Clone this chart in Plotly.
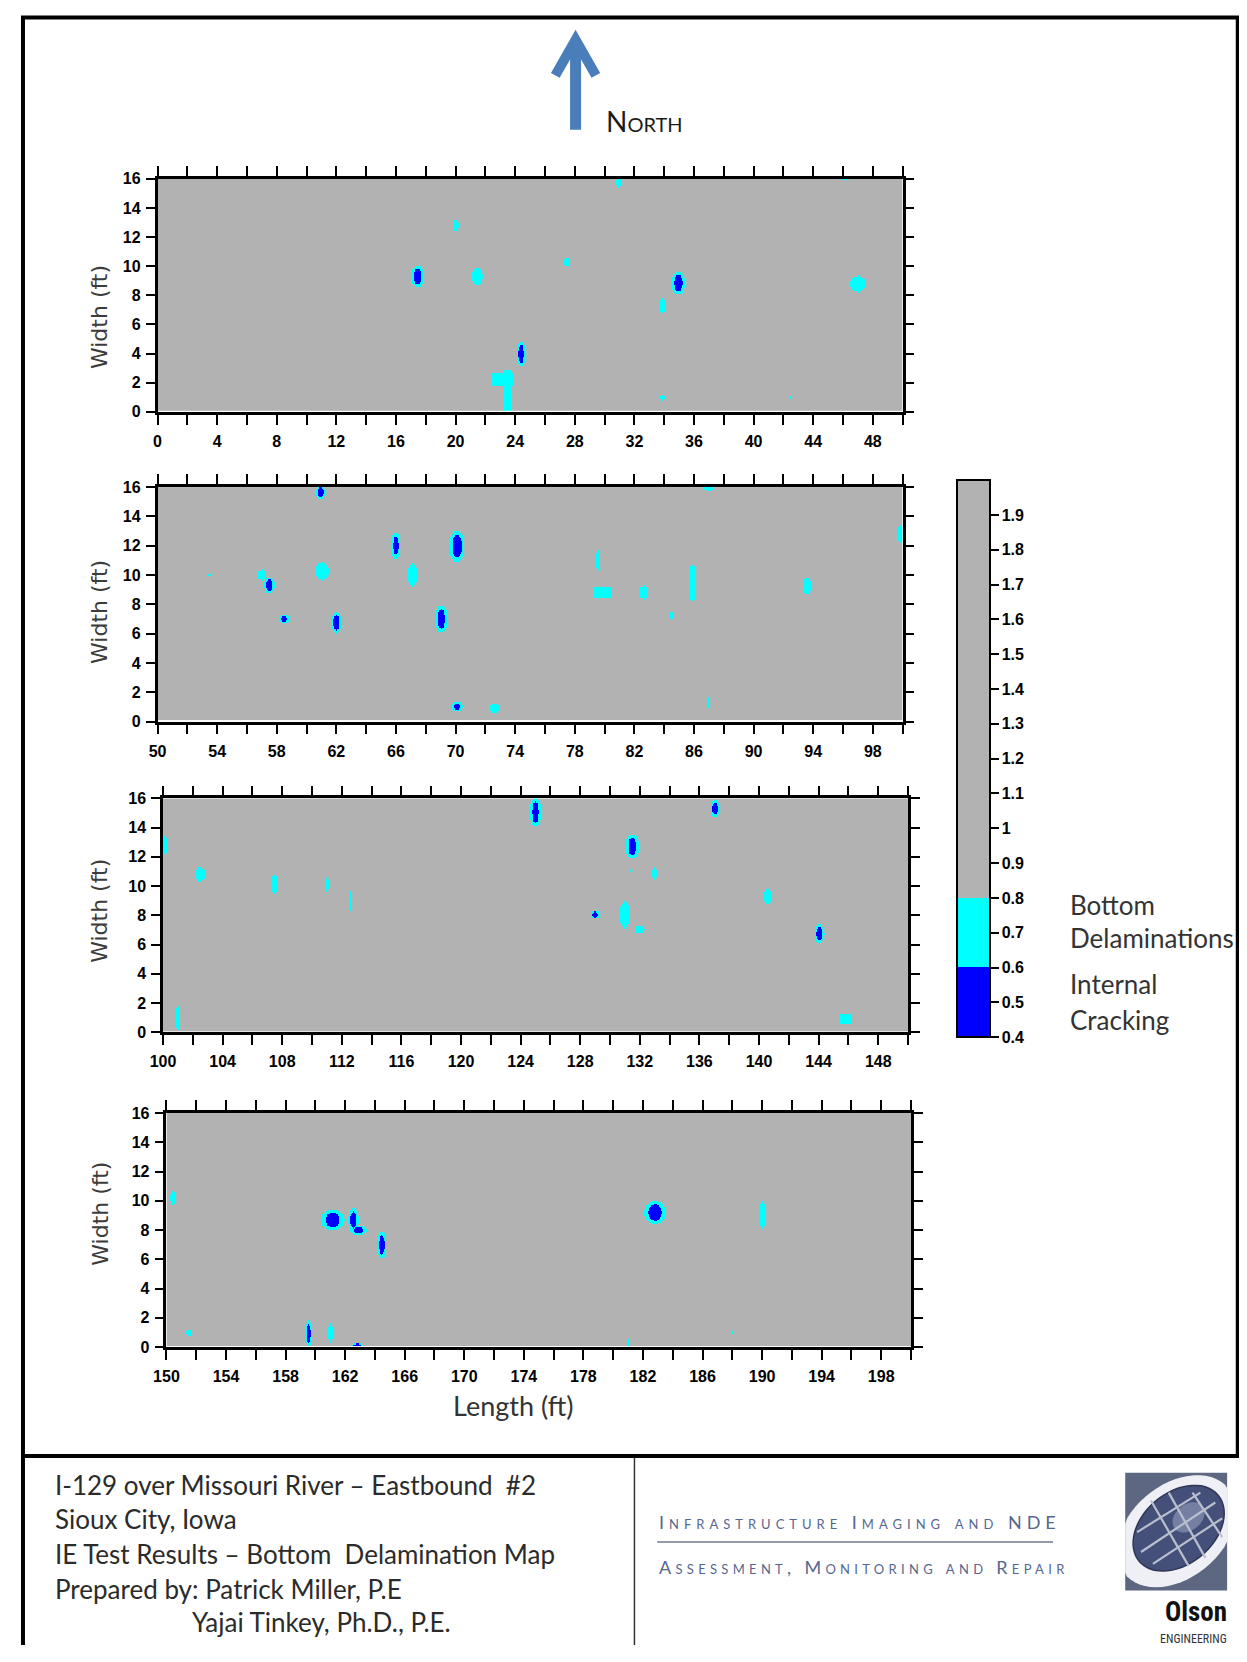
import numpy as np
import plotly.graph_objects as go

# page is 1247x1662 with an 8px body margin; the figure fills the rest exactly
MARGIN = 8
W, H = 1247 - 2 * MARGIN, 1662 - 2 * MARGIN

# ---------------- data ----------------
panel_starts = [0, 50, 100, 150]      # start of each 50-ft strip (ft)
panel_length = 50                      # ft
deck_width = 16                        # ft

# anomaly spots: centre x (ft), centre y (ft), extent in x (ft), extent in y (ft), kind
# kind: "C" bottom delamination (0.6-0.8), "B" internal cracking core with delamination rim,
#       "R" rectangular bottom delamination
spot_x = [17.45, 21.45, 20.0, 27.5, 31.0, 34.95, 33.9, 47.0, 24.4, 23.15, 23.5, 33.9, 42.5, 23.5, 46.1,
          60.95, 66.0, 70.1, 57.0, 57.5, 61.05, 67.1, 53.5, 58.5, 62.0, 69.05, 70.1, 72.6, 79.55, 79.85,
          82.65, 85.9, 84.5, 87.0, 87.0, 93.6, 99.85, 66.5,
          125.0, 137.05, 131.5, 100.1, 102.5, 107.5, 111.0, 110.5, 112.6, 129.0, 131.0, 132.0, 133.0,
          131.4, 140.6, 144.05, 101.0, 145.8,
          161.15, 162.55, 162.9, 164.45, 182.8, 190.0, 150.45, 151.5, 159.55, 161.0, 162.8, 181.0, 188.0]
spot_y = [9.3, 9.3, 12.8, 10.3, 15.75, 8.85, 7.3, 8.8, 4.0, 2.25, 1.45, 1.0, 1.0, 6.3, 15.95,
          15.65, 12.0, 11.95, 10.0, 9.3, 10.25, 10.0, 10.0, 7.0, 6.75, 7.0, 1.0, 0.9, 11.0, 8.8,
          8.8, 9.45, 7.25, 15.9, 1.3, 9.25, 12.8, 1.2,
          15.05, 15.3, 12.7, 12.8, 10.8, 10.15, 10.1, 10.9, 9.0, 8.05, 8.05, 7.05, 10.85,
          11.1, 9.3, 6.75, 1.0, 0.95,
          8.7, 8.7, 8.0, 7.0, 9.2, 9.05, 10.2, 1.0, 0.95, 1.0, 0.15, 0.3, 1.0]
spot_w = [0.7, 0.6, 0.3, 0.3, 0.3, 0.75, 0.25, 0.8, 0.5, 1.1, 0.4, 0.2, 0.12, 0.08, 0.35,
          0.55, 0.5, 0.8, 0.5, 0.55, 0.7, 0.55, 0.15, 0.55, 0.55, 0.65, 0.6, 0.5, 0.15, 0.9,
          0.5, 0.4, 0.18, 0.55, 0.1, 0.45, 0.35, 0.08,
          0.62, 0.5, 0.73, 0.35, 0.55, 0.35, 0.25, 0.12, 0.18, 0.5, 0.5, 0.5, 0.22,
          0.12, 0.4, 0.5, 0.22, 0.65,
          1.2, 0.55, 0.85, 0.5, 1.15, 0.4, 0.3, 0.33, 0.36, 0.22, 0.6, 0.15, 0.1]
spot_h = [1.15, 0.9, 0.6, 0.55, 0.5, 1.2, 0.85, 0.85, 1.3, 0.7, 2.3, 0.3, 0.2, 0.4, 0.15,
          0.7, 1.4, 1.65, 0.55, 0.85, 0.95, 1.2, 0.3, 0.45, 1.1, 1.45, 0.5, 0.45, 1.1, 0.6,
          0.75, 2.0, 0.55, 0.25, 0.6, 0.8, 1.0, 0.5,
          1.55, 0.9, 1.25, 1.0, 0.75, 1.05, 0.8, 0.15, 1.05, 0.45, 1.45, 0.45, 0.75,
          0.15, 0.85, 1.0, 1.2, 0.5,
          1.1, 1.2, 0.5, 1.45, 1.2, 1.4, 0.7, 0.35, 1.4, 1.15, 0.25, 0.5, 0.15]
spot_kind = ["B", "C", "C", "C", "C", "B", "C", "C", "B", "R", "R", "C", "C", "C", "C",
             "B", "B", "B", "C", "B", "C", "C", "C", "B", "B", "B", "B", "C", "C", "R",
             "C", "C", "C", "C", "C", "C", "C", "C",
             "B", "B", "B", "C", "C", "C", "C", "C", "C", "B", "C", "C", "C",
             "C", "C", "B", "C", "R",
             "B", "B", "B", "B", "B", "C", "C", "C", "B", "C", "B", "C", "C"]

level_sound = 1.4       # sound concrete
level_delam = 0.7       # bottom delamination
level_crack = 0.5       # internal cracking

cbar_ticks = [0.4, 0.5, 0.6, 0.7, 0.8, 0.9, 1.0, 1.1, 1.2, 1.3, 1.4, 1.5, 1.6, 1.7, 1.8, 1.9]
cbar_ticktext = ["0.4", "0.5", "0.6", "0.7", "0.8", "0.9", "1", "1.1", "1.2", "1.3", "1.4",
                 "1.5", "1.6", "1.7", "1.8", "1.9"]

title_lines = ["I-129 over Missouri River \u2013 Eastbound  #2",
               "Sioux City, Iowa",
               "IE Test Results \u2013 Bottom  Delamination Map",
               "Prepared by: Patrick Miller, P.E",
               "Yajai Tinkey, Ph.D., P.E."]
legend_lines = ["Bottom", "Delaminations", "Internal", "Cracking"]

# contour smoothing in the source map makes each spot look a little larger than its core reading
EDGE_GROWTH = 1.3


# ---------------- helpers (page pixel -> paper) ----------------
def px(x):
    return (x - MARGIN) / W


def py(y):
    return 1 - (y - MARGIN) / H


GRAY = "#b2b2b2"
colorscale = [[0.0, "#0000ff"], [0.125, "#0000ff"], [0.125, "#00ffff"], [0.25, "#00ffff"],
              [0.25, GRAY], [1.0, GRAY]]

# panel boxes in page pixels: left, right, top, bottom
boxes = [(146, 899, 172.5, 408),
         (146, 899, 484, 721),
         (151.5, 904.5, 798.5, 1035),
         (155, 907.5, 1116.5, 1353)]
ytitle_centres = [312, 610, 912, 1218]

tick_font = dict(family="Liberation Sans, Arial, sans-serif", size=16, color="black", weight="bold")

fig = go.Figure()

dx, dy = 0.05, 0.1
for i, x0 in enumerate(panel_starts):
    xs = np.arange(x0 + dx / 2, x0 + panel_length, dx)
    ys = np.arange(0.1 + dy / 2, deck_width, dy)
    X, Y = np.meshgrid(xs, ys)
    Z = np.full(X.shape, level_sound, dtype=np.float32)
    for cx, cy, w, h, k in zip(spot_x, spot_y, spot_w, spot_h, spot_kind):
        if cx < x0 - 1 or cx > x0 + panel_length + 1:
            continue
        w = max(w * EDGE_GROWTH, dx * 1.6)
        h = max(h * EDGE_GROWTH, dy * 1.6)
        if k == "R":
            m = (np.abs(X - cx) <= w / 2) & (np.abs(Y - cy) <= h / 2)
        else:
            m = ((X - cx) / (w / 2)) ** 2 + ((Y - cy) / (h / 2)) ** 2 <= 1
        Z[m] = np.minimum(Z[m], level_delam)
        if k == "B":
            wi, hi = max(w * 0.58, dx * 1.2), max(h * 0.72, dy * 1.2)
            mi = ((X - cx) / (wi / 2)) ** 2 + ((Y - cy) / (hi / 2)) ** 2 <= 1
            Z[mi] = level_crack
    n = "" if i == 0 else str(i + 1)
    fig.add_trace(go.Heatmap(
        x=xs, y=ys, z=Z, xaxis="x" + n, yaxis="y" + n,
        colorscale=colorscale, zmin=0.4, zmax=2.0, zsmooth=False,
        hoverinfo="skip", showscale=(i == 0),
        colorbar=dict(
            x=px(954), xanchor="left", xref="paper",
            y=py(477), yanchor="top", yref="paper",
            len=(1040 - 477) / H, lenmode="fraction",
            thickness=33, thicknessmode="pixels",
            outlinewidth=2, outlinecolor="black",
            tickvals=cbar_ticks, ticktext=cbar_ticktext,
            ticks="outside", ticklen=8, tickwidth=1.5, tickcolor="black",
            tickfont=tick_font, xpad=0, ypad=0,
        ),
    ))
    left, right, top, bottom = boxes[i]
    tv = list(range(x0, x0 + panel_length + 1, 2))
    tt = [str(v) if ((v - x0) % 4 == 0 and v < x0 + panel_length) else "" for v in tv]
    axis_common = dict(showline=True, linewidth=2.5, linecolor="black", mirror="allticks",
                       ticks="outside", tickwidth=2, tickcolor="black",
                       showgrid=False, zeroline=False, tickfont=tick_font, fixedrange=True)
    fig.update_layout(**{
        "xaxis" + n: dict(domain=[px(left), px(right)], range=[x0, x0 + panel_length], ticklen=10,
                          tickvals=tv, ticktext=tt, anchor="y" + n, ticklabelstandoff=3, **axis_common),
        "yaxis" + n: dict(domain=[py(bottom), py(top)], range=[0, deck_width], ticklen=9,
                          tickvals=list(range(0, 17, 2)), anchor="x" + n, ticklabelstandoff=2,
                          **axis_common),
    })

annotations = []


def note(text, x, y, xanchor="center", **font):
    annotations.append(dict(text=text, x=px(x), y=py(y), xref="paper", yref="paper",
                            xanchor=xanchor, yanchor="middle", showarrow=False, font=font))


# y axis titles
for yc in ytitle_centres:
    note("Width (ft)", 88, yc, family="DejaVu Sans", size=22, color="#3c3c3c")
    annotations[-1]["textangle"] = -90
note("Length (ft)", 505, 1412, family="Lato", size=27, color="#333333")

# legend texts beside colour bar
for txt, yy in zip(legend_lines, [906, 940, 986, 1022]):
    note(txt, 1066, yy, xanchor="left", family="Lato", size=26, color="#333333")

# north label
note("North", 597, 114, xanchor="left", family="Lato", size=28, color="#1a1a1a", variant="small-caps")

# title block
for j, (txt, yy) in enumerate(zip(title_lines, [1492, 1527, 1562, 1597, 1631])):
    note(txt, 179 if j == 4 else 40, yy, xanchor="left", family="Lato", size=26, color="#2b2b2b")

note('<span style="letter-spacing:5px">Infrastructure Imaging and NDE</span>', 651, 1530, xanchor="left",
     family="Lato", size=18, color="#56678f", variant="small-caps")
note('<span style="letter-spacing:4.3px">Assessment, Monitoring and Repair</span>', 651, 1575,
     xanchor="left", family="Lato", size=18, color="#56678f", variant="small-caps")
note("<b>Olson</b>", 1228, 1621, xanchor="right",
     family="Roboto Condensed, Liberation Sans Narrow, Lato", size=27, color="#111111")
note("ENGINEERING", 1228, 1648, xanchor="right",
     family="Liberation Sans Narrow, Roboto Condensed, Lato", size=12, color="#333333")
annotations[-1]["borderpad"] = 0
annotations[-2]["borderpad"] = 0

shapes = []


def line(x0, y0, x1, y1, w, c="black"):
    shapes.append(dict(type="line", xref="paper", yref="paper", x0=px(x0), y0=py(y0), x1=px(x1), y1=py(y1),
                       line=dict(color=c, width=w), layer="above"))


# frame
line(10, 8, 10, 1654, 4)
line(8, 9.5, 1239, 9.5, 4)
line(1237.5, 8, 1237.5, 1465, 3.5)
line(8, 1463, 1239, 1463, 4)
line(628, 1465, 628, 1654, 1.5, "#333333")
line(651, 1550, 1051, 1550, 1.5, "#6f7a94")

# north arrow
shapes.append(dict(type="path", xref="paper", yref="paper",
                   path=f"M {px(568.5)},{py(123)} L {px(568.5)},{py(34)}",
                   line=dict(color="#4a7ebb", width=11), layer="above"))
shapes.append(dict(type="path", xref="paper", yref="paper",
                   path=f"M {px(548)},{py(68)} L {px(568.5)},{py(32)} L {px(589)},{py(68)}",
                   fillcolor="rgba(0,0,0,0)", line=dict(color="#4a7ebb", width=10), layer="above"))


# logo
def ellipse_path(cx, cy, a, b, ang, clip=None, n=60):
    t = np.linspace(0, 2 * np.pi, n)
    ca, sa = np.cos(np.radians(ang)), np.sin(np.radians(ang))
    xx = cx + a * np.cos(t) * ca - b * np.sin(t) * sa
    yy = cy + a * np.cos(t) * sa + b * np.sin(t) * ca
    if clip:
        xx = np.clip(xx, clip[0], clip[1])
        yy = np.clip(yy, clip[2], clip[3])
    pts = [f"{px(a_)},{py(b_)}" for a_, b_ in zip(xx, yy)]
    return "M " + " L ".join(pts) + " Z"


L0, L1, T0, T1 = 1124, 1227, 1480, 1599
shapes.append(dict(type="rect", xref="paper", yref="paper", x0=px(L0), x1=px(L1), y0=py(T1), y1=py(T0),
                   fillcolor="#5d6781", line=dict(width=0), layer="above"))
shapes.append(dict(type="path", xref="paper", yref="paper",
                   path=ellipse_path(1176, 1539, 68, 47, -40, clip=(L0, L1, T0, T1)),
                   fillcolor="#eef0f5", line=dict(width=0), layer="above"))
shapes.append(dict(type="path", xref="paper", yref="paper",
                   path=ellipse_path(1178, 1536, 52, 36, -40),
                   fillcolor="#44507a", line=dict(color="#2f3654", width=1.5), layer="above"))
shapes.append(dict(type="path", xref="paper", yref="paper",
                   path=ellipse_path(1188, 1525, 18, 13, -40),
                   fillcolor="#8a93b3", line=dict(width=0), opacity=0.7, layer="above"))
for sx0, sy0, sx1, sy1 in [(1140, 1560, 1215, 1510), (1136, 1540, 1200, 1500), (1152, 1572, 1222, 1526),
                            (1150, 1508, 1188, 1574), (1168, 1500, 1205, 1566), (1192, 1500, 1222, 1545)]:
    line(sx0, sy0, sx1, sy1, 2.2, "#b9bfcf")

fig.update_layout(
    width=W, height=H, margin=dict(l=0, r=0, t=0, b=0),
    paper_bgcolor="white", plot_bgcolor="white",
    annotations=annotations, shapes=shapes, showlegend=False,
)

fig.write_html("out.html")
